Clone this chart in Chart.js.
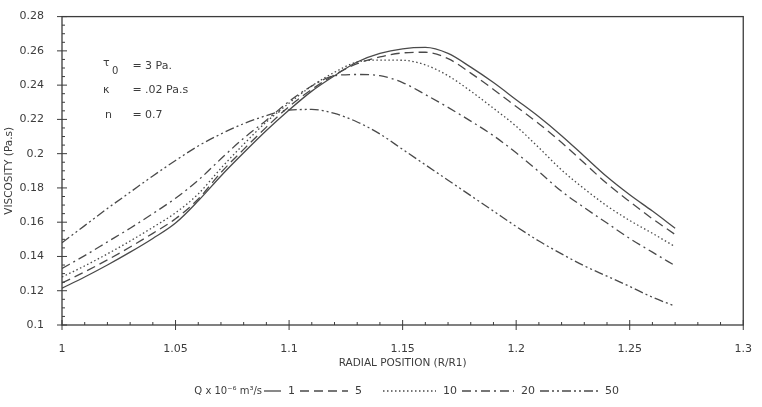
<!DOCTYPE html>
<html>
<head>
<meta charset="utf-8">
<script src="https://cdn.jsdelivr.net/npm/chart.js@4"></script>
<style>
    html, body { margin: 0; padding: 0; background: #fff; }
    #wrap { width: 762px; height: 407px; }
</style>
</head>
<body>
<div id="wrap"><canvas id="viscosityChart" width="762" height="407"></canvas></div>
<script>
// Radial position (R/R1)
const radialPos = [1.00, 1.01, 1.02, 1.03, 1.04, 1.05, 1.06, 1.07, 1.08, 1.09,
    1.10, 1.11, 1.12, 1.13, 1.14, 1.15, 1.16, 1.17, 1.18, 1.19,
    1.20, 1.21, 1.22, 1.23, 1.24, 1.25, 1.26, 1.27];

// Viscosity (Pa.s) for each flow rate Q x 10^-6 m3/s
const viscQ1 = [0.1215, 0.128, 0.135, 0.1425, 0.1505, 0.1595, 0.1725, 0.187, 0.2005, 0.2135,
    0.2255, 0.2365, 0.2455, 0.2535, 0.2585, 0.2612, 0.262, 0.2585, 0.2505, 0.2415,
    0.2315, 0.2215, 0.2105, 0.1985, 0.1865, 0.176, 0.1665, 0.1565];
const viscQ5 = [0.1245, 0.131, 0.138, 0.1455, 0.1535, 0.162, 0.1735, 0.189, 0.2025, 0.2155,
    0.2275, 0.2375, 0.246, 0.2525, 0.2565, 0.2588, 0.2592, 0.2555, 0.247, 0.2375,
    0.2275, 0.2175, 0.2065, 0.1945, 0.1825, 0.172, 0.162, 0.1528];
const viscQ10 = [0.128, 0.1345, 0.1415, 0.149, 0.157, 0.1655, 0.1765, 0.1915, 0.2055, 0.2185,
    0.2295, 0.2395, 0.2475, 0.2535, 0.2546, 0.2545, 0.2518, 0.2455, 0.2365, 0.2265,
    0.216, 0.2035, 0.1905, 0.1795, 0.1695, 0.161, 0.1535, 0.1457];
const viscQ20 = [0.133, 0.1405, 0.1485, 0.1565, 0.165, 0.174, 0.1845, 0.197, 0.209, 0.2195,
    0.2305, 0.2395, 0.2455, 0.2462, 0.2455, 0.2415, 0.2345, 0.227, 0.219, 0.2105,
    0.2005, 0.1895, 0.178, 0.1685, 0.1595, 0.1505, 0.1425, 0.1346];
const viscQ50 = [0.148, 0.158, 0.168, 0.1775, 0.187, 0.196, 0.2045, 0.2115, 0.2175, 0.2222,
    0.2255, 0.2258, 0.2235, 0.2185, 0.2115, 0.2025, 0.1935, 0.1845, 0.1755, 0.1665,
    0.1575, 0.149, 0.1415, 0.1345, 0.1285, 0.1225, 0.1162, 0.111];

const flowLabels = ['1', '5', '10', '20', '50'];
const xTickValues = [1, 1.05, 1.1, 1.15, 1.2, 1.25, 1.3];
const yTickValues = [0.1, 0.12, 0.14, 0.16, 0.18, 0.2, 0.22, 0.24, 0.26, 0.28];

// line style per series
const dashStyles = [[], [9, 5], [1.5, 2.5], [9, 4, 2, 4], [9, 3, 2, 3, 2, 3]];
// legend: where each sample line starts and how long it is
const legendSlots = [[264, 17], [300, 48], [383, 53], [462, 52], [540, 58]];

const INK = '#3c3c3c';
const LINE = '#4a4a4a';
const FONT = 'DejaVu Sans';

const allSeries = [viscQ1, viscQ5, viscQ10, viscQ20, viscQ50];

const datasets = allSeries.map(function (vals, i) {
    return {
        label: flowLabels[i],
        data: radialPos.map((x, j) => ({x: x, y: vals[j]})),
        borderColor: LINE,
        borderWidth: 1.3,
        borderDash: dashStyles[i],
        pointRadius: 0,
        fill: false,
        cubicInterpolationMode: 'monotone'
    };
});

// frame, major/minor ticks, parameter block and legend
const decorPlugin = {
    id: 'decor',
    afterDraw(chart) {
        const {ctx, chartArea: a, scales: {x, y}} = chart;
        ctx.save();
        ctx.strokeStyle = INK;
        ctx.lineWidth = 1.3;
        ctx.setLineDash([]);
        ctx.strokeRect(a.left, a.top, a.right - a.left, a.bottom - a.top);

        ctx.lineWidth = 1;
        ctx.beginPath();
        for (let i = 0; i < xTickValues.length; i++) {
            const px = x.getPixelForValue(xTickValues[i]);
            ctx.moveTo(px, a.bottom - 5);
            ctx.lineTo(px, a.bottom + 5);
            if (i < xTickValues.length - 1) {
                const step = (xTickValues[i + 1] - xTickValues[i]) / 5;
                for (let k = 1; k < 5; k++) {
                    const mx = x.getPixelForValue(xTickValues[i] + k * step);
                    ctx.moveTo(mx, a.bottom - 3);
                    ctx.lineTo(mx, a.bottom);
                }
            }
        }
        for (let i = 0; i < yTickValues.length; i++) {
            const py = y.getPixelForValue(yTickValues[i]);
            ctx.moveTo(a.left - 5, py);
            ctx.lineTo(a.left + 5, py);
            if (i < yTickValues.length - 1) {
                const step = (yTickValues[i + 1] - yTickValues[i]) / 4;
                for (let k = 1; k < 4; k++) {
                    const my = y.getPixelForValue(yTickValues[i] + k * step);
                    ctx.moveTo(a.left, my);
                    ctx.lineTo(a.left + 3, my);
                }
            }
        }
        ctx.stroke();

        // model parameters
        ctx.fillStyle = INK;
        ctx.font = '11px "' + FONT + '"';
        ctx.textBaseline = 'middle';
        ctx.textAlign = 'left';
        const symX = x.getPixelForValue(1.018);
        const eqX = x.getPixelForValue(1.031);
        const r1 = y.getPixelForValue(0.2512);
        const r2 = y.getPixelForValue(0.2373);
        const r3 = y.getPixelForValue(0.2222);
        ctx.fillText('τ', symX, r1 - 3);
        ctx.font = '10px "' + FONT + '"';
        ctx.fillText('0', symX + 9, r1 + 5);
        ctx.font = '11px "' + FONT + '"';
        ctx.fillText('= 3 Pa.', eqX, r1);
        ctx.fillText('κ', symX, r2);
        ctx.fillText('= .02 Pa.s', eqX, r2);
        ctx.fillText('n', symX + 2, r3);
        ctx.fillText('= 0.7', eqX, r3);

        // legend
        const ly = 391;
        ctx.font = '10px "' + FONT + '"';
        ctx.textAlign = 'right';
        ctx.fillText('Q x 10⁻⁶ m³/s', legendSlots[0][0] - 2, ly);
        ctx.textAlign = 'left';
        chart.data.datasets.forEach(function (ds, i) {
            const [sx, len] = legendSlots[i];
            ctx.strokeStyle = ds.borderColor;
            ctx.lineWidth = ds.borderWidth;
            ctx.setLineDash(ds.borderDash);
            ctx.beginPath();
            ctx.moveTo(sx, ly);
            ctx.lineTo(sx + len, ly);
            ctx.stroke();
            ctx.font = '11px "' + FONT + '"';
            ctx.fillText(ds.label, sx + len + 7, ly);
        });
        ctx.restore();
    }
};

const tickFont = {family: FONT, size: 11};

new Chart(document.getElementById('viscosityChart'), {
    type: 'line',
    data: {datasets: datasets},
    options: {
        responsive: false,
        animation: false,
        layout: {padding: {top: 12, right: 11, bottom: 37, left: 0}},
        plugins: {
            legend: {display: false},
            tooltip: {enabled: false}
        },
        scales: {
            x: {
                type: 'linear',
                min: 1,
                max: 1.3,
                afterBuildTicks: s => { s.ticks = xTickValues.map(v => ({value: v})); },
                afterFit: s => { s.height = 45; },
                grid: {display: false},
                border: {display: false},
                ticks: {
                    padding: 10,
                    color: INK,
                    font: tickFont,
                    maxRotation: 0,
                    autoSkip: false,
                    callback: v => String(+v.toFixed(2))
                },
                title: {
                    display: true,
                    text: 'RADIAL POSITION (R/R1)',
                    color: INK,
                    font: {family: FONT, size: 10.5},
                    padding: {top: 0, bottom: 0}
                }
            },
            y: {
                type: 'linear',
                min: 0.1,
                max: 0.28,
                afterBuildTicks: s => { s.ticks = yTickValues.map(v => ({value: v})); },
                afterFit: s => { s.width = 62; },
                grid: {display: false},
                border: {display: false},
                ticks: {
                    padding: 10,
                    color: INK,
                    font: tickFont,
                    autoSkip: false,
                    callback: v => String(+v.toFixed(2))
                },
                title: {
                    display: true,
                    text: 'VISCOSITY (Pa.s)',
                    color: INK,
                    font: {family: FONT, size: 10.5},
                    padding: {top: 3, bottom: 0}
                }
            }
        }
    },
    plugins: [decorPlugin]
});
</script>
</body>
</html>
